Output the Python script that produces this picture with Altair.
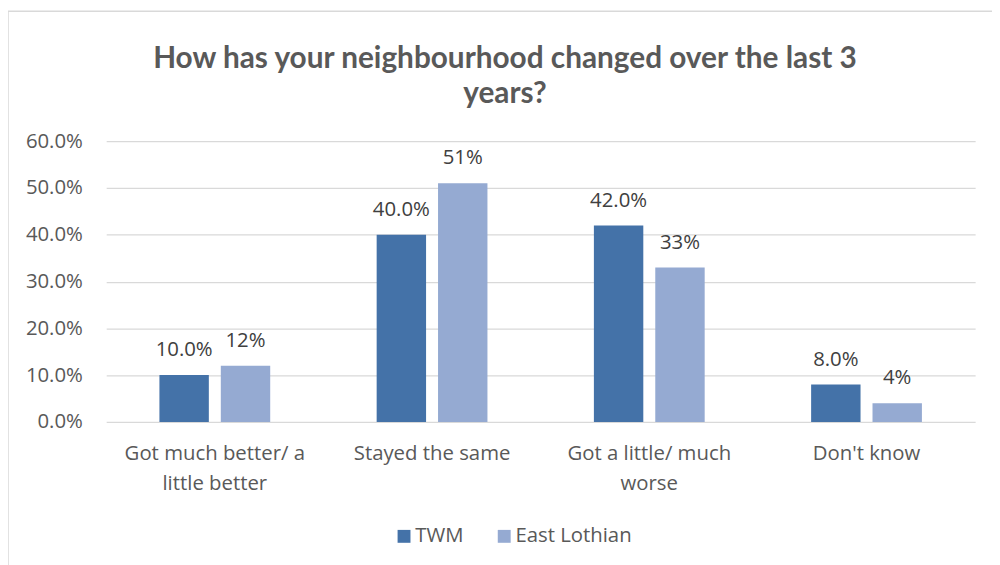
import altair as alt
import pandas as pd

categories = ["Got much better/ a|little better", "Stayed the same", "Got a little/ much|worse", "Don't know"]
series = ["TWM", "East Lothian"]
twm_values = [0.10, 0.40, 0.42, 0.08]
el_values = [0.12, 0.51, 0.33, 0.04]
twm_labels = ["10.0%", "40.0%", "42.0%", "8.0%"]
el_labels = ["12%", "51%", "33%", "4%"]
colors = ["#4472a8", "#95aad2"]

rows = []
for c, v, l in zip(categories, twm_values, twm_labels):
    rows.append({"cat": c, "series": "TWM", "value": v, "label": l})
for c, v, l in zip(categories, el_values, el_labels):
    rows.append({"cat": c, "series": "East Lothian", "value": v, "label": l})
df = pd.DataFrame(rows)

FONT = "Open Sans"
TFONT = "Lato"
GREY = "#595959"
FS = 20.5

x_enc = alt.X("cat:N", sort=categories, title=None,
              scale=alt.Scale(paddingInner=0.49, paddingOuter=0.245),
              axis=alt.Axis(labelExpr="split(datum.label, '|')", labelAngle=0,
                            labelFontSize=FS, labelColor=GREY, labelFont=FONT,
                            labelPadding=32, labelLineHeight=30, domain=False,
                            ticks=False, labelBaseline="middle", labelLimit=400))
xo_enc = alt.XOffset("series:N", sort=series, scale=alt.Scale(paddingInner=0.195))
y_enc = alt.Y("value:Q", title=None,
              scale=alt.Scale(domain=[0, 0.6], nice=False),
              axis=alt.Axis(format=".1%", values=[0, 0.1, 0.2, 0.3, 0.4, 0.5, 0.6],
                            labelFontSize=FS, labelColor=GREY, labelFont=FONT,
                            labelPadding=24, domain=False, ticks=False,
                            gridColor="#d9d9d9", gridWidth=1.3))

frame = alt.Chart(pd.DataFrame({"k": [0]})).mark_rect(
    fill=None, stroke="#d9d9d9", strokeWidth=1.5
).encode(x=alt.value(-99), x2=alt.value(950), y=alt.value(-131), y2=alt.value(600))

bars = alt.Chart(df).mark_bar().encode(
    x=x_enc, xOffset=xo_enc, y=y_enc,
    color=alt.Color("series:N", sort=series,
                    scale=alt.Scale(domain=series, range=colors),
                    legend=alt.Legend(title=None, orient="none", direction="horizontal",
                                      legendX=290, legendY=388,
                                      symbolType="square", symbolSize=169,
                                      symbolStrokeWidth=0, labelFontSize=FS,
                                      labelFont=FONT, labelColor=GREY,
                                      columnPadding=30, labelOffset=1)),
)

texts = alt.Chart(df).mark_text(
    baseline="bottom", dy=-15, fontSize=FS, font=FONT, color="#404040"
).encode(x=alt.X("cat:N", sort=categories), xOffset=alt.XOffset("series:N", sort=series),
         y="value:Q", text="label:N")

chart = alt.layer(frame, bars, texts).properties(
    width=876, height=283,
    title=alt.TitleParams(
        ["How has your neighbourhood changed over the last 3", "years?"],
        fontSize=30, font=TFONT, fontWeight="bold", color=GREY,
        anchor="middle", dx=-36, offset=0, dy=99, lineHeight=35,
    ),
    autosize=alt.AutoSizeParams(type="none"),
    padding={"left": 99, "top": 132, "right": 17, "bottom": 142},
).configure(background="white").configure_view(stroke=None)

chart.save("out.html", embed_options={"renderer": "svg", "actions": False})
